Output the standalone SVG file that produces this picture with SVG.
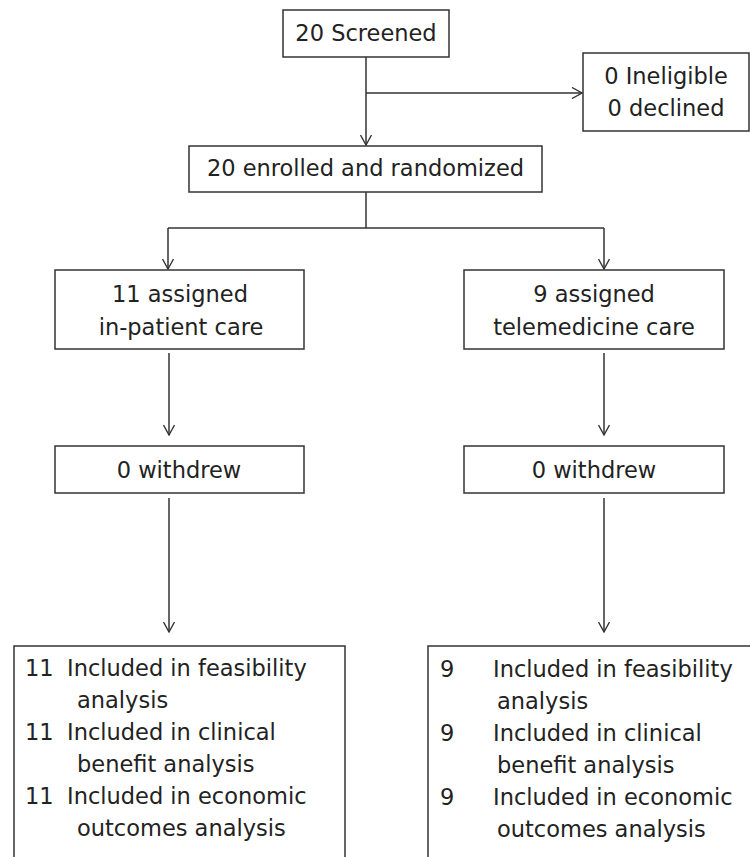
<svg xmlns="http://www.w3.org/2000/svg" width="750" height="857" viewBox="0 0 750 857">
<style>
.box{fill:#fff;stroke:#333;stroke-width:1.5}
.t{font-family:"DejaVu Sans","Liberation Sans",sans-serif;font-size:22.5px;fill:#222}
.c{text-anchor:middle}
.ln{fill:none;stroke:#333;stroke-width:1.5}
</style>
<defs>
<marker id="ah" viewBox="0 0 12 12" refX="11" refY="6" markerWidth="12" markerHeight="12" markerUnits="userSpaceOnUse" orient="auto">
<path d="M1,0.5 L11,6 L1,11.5" fill="none" stroke="#333" stroke-width="1.4"/>
</marker>
</defs>
<rect width="750" height="857" fill="#fff"/>
<g id="connectors">
<line class="ln" x1="366" y1="57" x2="366" y2="145" marker-end="url(#ah)"/>
<line class="ln" x1="366" y1="93" x2="582" y2="93" marker-end="url(#ah)"/>
<polyline class="ln" points="366,192 366,228"/>
<polyline class="ln" points="168,228 604,228"/>
<line class="ln" x1="168" y1="228" x2="168" y2="269" marker-end="url(#ah)"/>
<line class="ln" x1="604" y1="228" x2="604" y2="269" marker-end="url(#ah)"/>
<line class="ln" x1="169" y1="353" x2="169" y2="435" marker-end="url(#ah)"/>
<line class="ln" x1="604" y1="353" x2="604" y2="435" marker-end="url(#ah)"/>
<line class="ln" x1="169" y1="498" x2="169" y2="632" marker-end="url(#ah)"/>
<line class="ln" x1="604" y1="498" x2="604" y2="632" marker-end="url(#ah)"/>
</g>
<g id="screened">
<rect class="box" x="283" y="10" width="166" height="47"/>
<text class="t c" x="366" y="41">20 Screened</text>
</g>
<g id="excluded">
<rect class="box" x="583" y="53" width="166" height="78"/>
<text class="t c" x="666" y="84">0 Ineligible</text>
<text class="t c" x="666" y="116">0 declined</text>
</g>
<g id="enrolled">
<rect class="box" x="189" y="146" width="353" height="46"/>
<text class="t c" x="365.5" y="176">20 enrolled and randomized</text>
</g>
<g id="inpatient">
<rect class="box" x="55" y="270" width="249" height="79"/>
<text class="t c" x="180" y="302">11 assigned</text>
<text class="t c" x="181" y="335">in-patient care</text>
</g>
<g id="telemedicine">
<rect class="box" x="464" y="270" width="260" height="79"/>
<text class="t c" x="594" y="302">9 assigned</text>
<text class="t c" x="594" y="335">telemedicine care</text>
</g>
<g id="withdrew-left">
<rect class="box" x="55" y="446" width="249" height="47"/>
<text class="t c" x="179" y="478">0 withdrew</text>
</g>
<g id="withdrew-right">
<rect class="box" x="464" y="446" width="260" height="47"/>
<text class="t c" x="594" y="478">0 withdrew</text>
</g>
<g id="analysis-left">
<rect class="box" x="14" y="646" width="331" height="230"/>
<text class="t" x="25" y="676">11</text>
<text class="t" x="67" y="676">Included in feasibility</text>
<text class="t" x="77" y="708">analysis</text>
<text class="t" x="25" y="740">11</text>
<text class="t" x="67" y="740">Included in clinical</text>
<text class="t" x="77" y="772">benefit analysis</text>
<text class="t" x="25" y="804">11</text>
<text class="t" x="67" y="804">Included in economic</text>
<text class="t" x="77" y="836">outcomes analysis</text>
</g>
<g id="analysis-right">
<rect class="box" x="428" y="646" width="340" height="230"/>
<text class="t" x="440" y="677">9</text>
<text class="t" x="493" y="677">Included in feasibility</text>
<text class="t" x="497" y="709">analysis</text>
<text class="t" x="440" y="741">9</text>
<text class="t" x="493" y="741">Included in clinical</text>
<text class="t" x="497" y="773">benefit analysis</text>
<text class="t" x="440" y="805">9</text>
<text class="t" x="493" y="805">Included in economic</text>
<text class="t" x="497" y="837">outcomes analysis</text>
</g>
</svg>
